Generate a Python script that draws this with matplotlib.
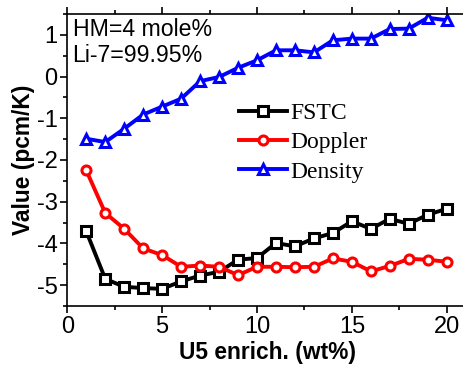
import matplotlib
matplotlib.use("Agg")
import matplotlib.pyplot as plt
from matplotlib.ticker import MultipleLocator

plt.rcParams["axes.unicode_minus"] = False

enrich = [1, 2, 3, 4, 5, 6, 7, 8, 9, 10, 11, 12, 13, 14, 15, 16, 17, 18, 19, 20]
fstc = [-3.71, -4.85, -5.04, -5.07, -5.09, -4.91, -4.77, -4.68, -4.39, -4.35,
        -3.99, -4.07, -3.88, -3.75, -3.47, -3.65, -3.41, -3.53, -3.31, -3.17]
doppler = [-2.25, -3.27, -3.65, -4.12, -4.28, -4.56, -4.53, -4.56, -4.76, -4.56,
           -4.56, -4.57, -4.56, -4.36, -4.44, -4.67, -4.54, -4.37, -4.39, -4.44]
density = [-1.49, -1.57, -1.25, -0.91, -0.72, -0.53, -0.11, -0.01, 0.21, 0.39,
           0.63, 0.63, 0.58, 0.87, 0.91, 0.91, 1.14, 1.15, 1.41, 1.35]
series_names = ["FSTC", "Doppler", "Density"]
annotation = ["HM=4 mole%", "Li-7=99.95%"]

fig = plt.figure(figsize=(4.63, 3.67), dpi=100)
ax = fig.add_axes([67.3/463, 1-306/367, 1-67.3/463 + 0.01, (306-14)/367])

lw = 2.8
common = dict(lw=lw, markersize=6.5, markeredgewidth=2.2, markerfacecolor="white")
ax.plot(enrich, fstc, color="black", marker="s", label=series_names[0], **common)
ax.plot(enrich, doppler, color="red", marker="o", label=series_names[1], **common)
ax.plot(enrich, density, color="blue", marker="^", label=series_names[2], **common)

ax.set_xlim(0, 21.1)
ax.set_ylim(-5.5, 1.5)
ax.xaxis.set_major_locator(MultipleLocator(5))
ax.xaxis.set_minor_locator(MultipleLocator(2.5))
ax.yaxis.set_major_locator(MultipleLocator(1))
ax.yaxis.set_minor_locator(MultipleLocator(0.5))

tickfont = "Liberation Sans"
ax.tick_params(axis="both", which="major", direction="out", length=5, width=1.2,
               labelsize=17, top=True, right=True, pad=2)
ax.tick_params(axis="both", which="minor", direction="out", length=3, width=1.2,
               top=True, right=True)
for lab in ax.get_xticklabels() + ax.get_yticklabels():
    lab.set_family(tickfont)
for sp in ax.spines.values():
    sp.set_linewidth(1.2)

ax.set_xlabel("U5 enrich. (wt%)", fontsize=16.4, fontweight="bold", family=tickfont, labelpad=2)
ax.set_ylabel("Value (pcm/K)", fontsize=16.4, fontweight="bold", family=tickfont, labelpad=1)

ax.text(0.013, 0.985, annotation[0] + "\n" + annotation[1], transform=ax.transAxes,
        ha="left", va="top", fontsize=16.7, family=tickfont, linespacing=1.15)

leg = ax.legend(loc="upper left", bbox_to_anchor=(0.43, 0.697), frameon=False,
                prop={"family": "Liberation Serif", "size": 17},
                handlelength=2.0, handletextpad=0.15, labelspacing=0.33,
                borderpad=0, borderaxespad=0)

fig.savefig("out.png", dpi=100)
